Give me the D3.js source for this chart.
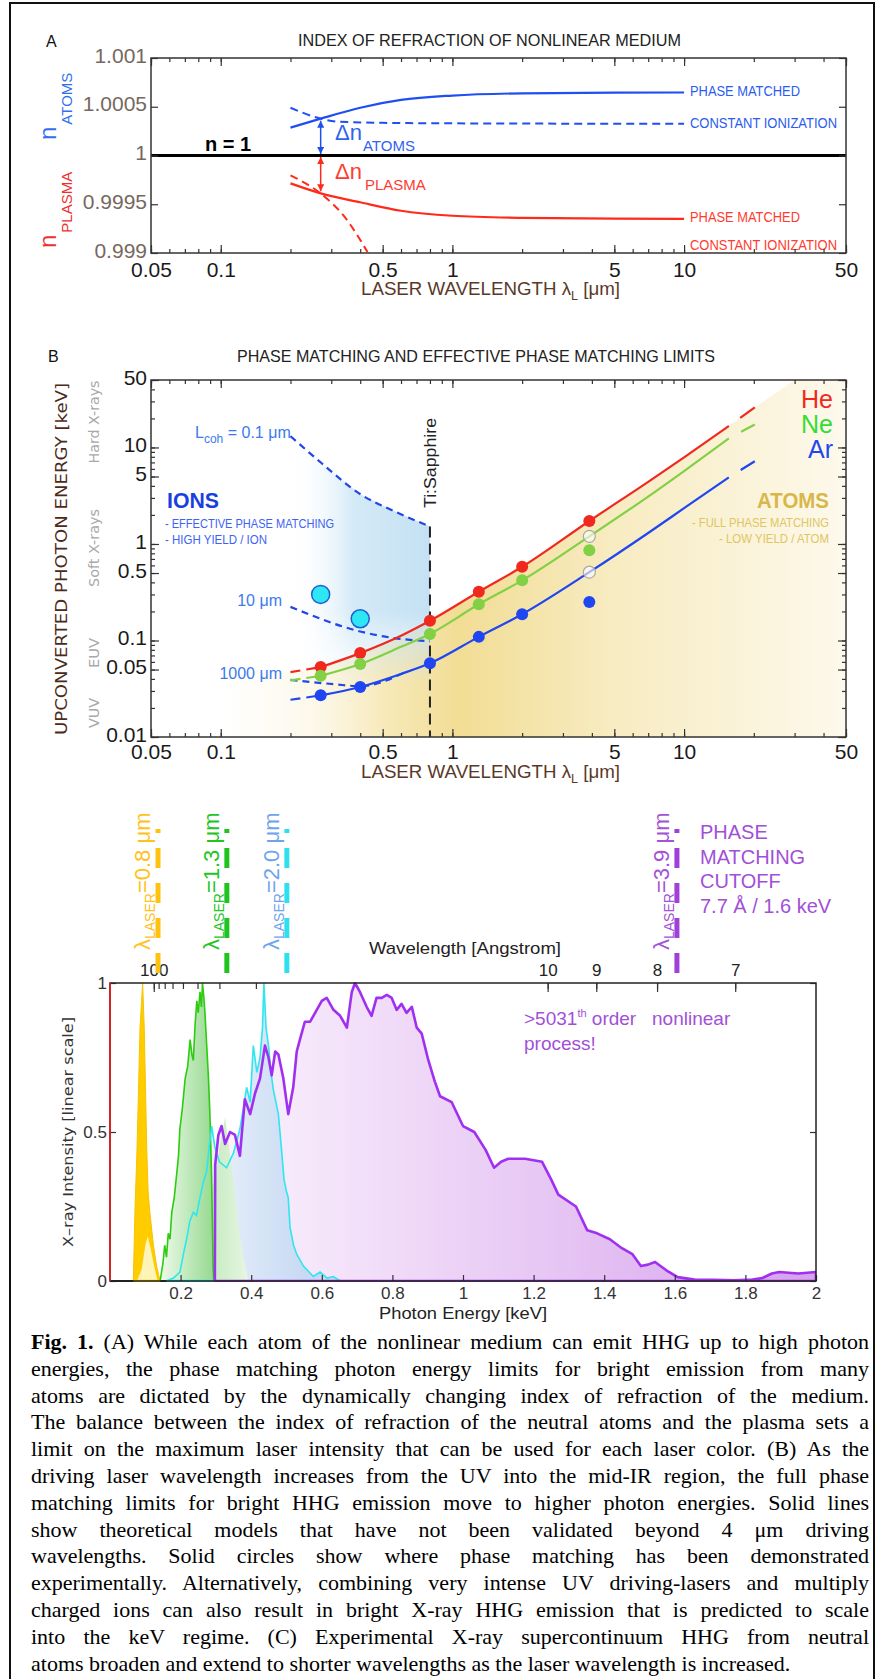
<!DOCTYPE html>
<html>
<head>
<meta charset="utf-8">
<script src="https://cdn.jsdelivr.net/npm/d3@7"></script>
<style>
  body { margin: 0; background: #fff; }
</style>
</head>
<body>
<script>
const SANS = '"Liberation Sans", Arial, sans-serif'
const WIDE = '"DejaVu Sans", Verdana, sans-serif'
const SERIF = '"Liberation Serif", "Times New Roman", serif'

// ---- panel A : index of refraction ----
const aWl = [0.2, 0.27, 0.4, 0.6, 1, 2, 5, 10]
const atomsMatched = [1.000286, 1.000378, 1.00049, 1.00057, 1.000615, 1.000638, 1.000645, 1.000646]
const plasmaMatched = [0.999714, 0.999612, 0.99952, 0.999433, 0.999382, 0.99936, 0.999352, 0.99935]
const atomsConstWl = [0.2, 0.27, 0.32, 0.5, 1, 10]
const atomsConst = [1.00049, 1.000378, 1.000347, 1.000335, 1.00033, 1.000325]
const plasmaConstWl = [0.2, 0.27, 0.34, 0.43]
const plasmaConst = [0.999796, 0.99961, 0.99938, 0.99901]
const crossWl = 0.27
const aYTicks = [0.999, 0.9995, 1, 1.0005, 1.001]
const xTickLabels = [0.05, 0.1, 0.5, 1, 5, 10, 50]

// ---- panel B : phase matching limits ----
const measWl = [0.27, 0.4, 0.8, 1.3, 2.0, 3.9]
const heMeas = [0.053, 0.074, 0.16, 0.32, 0.58, 1.73]
const neMeas = [0.043, 0.057, 0.117, 0.237, 0.42, 0.86]
const arMeas = [0.027, 0.033, 0.058, 0.109, 0.187, 0.25]
const openWl = [3.9, 3.9]
const openVal = [1.2, 0.51]
const ionWl = [0.27, 0.4]
const ionVal = [0.30, 0.168]
const theoWl = [0.27, 0.4, 0.6, 0.8, 1.3, 2, 3.9, 7, 10, 15.6]
const heTheo = [0.053, 0.074, 0.112, 0.16, 0.32, 0.58, 1.73, 4.4, 7.9, 16.7]
const neTheo = [0.043, 0.057, 0.086, 0.117, 0.237, 0.42, 1.2, 3.1, 5.7, 12.4]
const arTheo = [0.027, 0.033, 0.045, 0.058, 0.109, 0.187, 0.51, 1.3, 2.35, 4.9]
const lowWl = [0.2, 0.27]
const heLow = [0.047, 0.053]
const neLow = [0.0386, 0.043]
const arLow = [0.0243, 0.027]
const highWl = [15.6, 20.2]
const heHigh = [16.7, 26]
const neHigh = [12.4, 17.3]
const arHigh = [4.9, 7.2]
const atomsEdge = [30, 50]
const lcohFarWl = [0.2, 0.272, 0.403, 0.562, 0.8]
const lcohFar = [13.1, 6.9, 3.25, 2.18, 1.52]
const lcohMidWl = [0.2, 0.4, 0.56, 0.8]
const lcohMid = [0.223, 0.124, 0.106, 0.098]
const lcohNearWl = [0.2, 0.31, 0.4, 0.63]
const lcohNear = [0.039, 0.0352, 0.0336, 0.0475]
const tiSapphWl = 0.8
const bYLabels = [0.01, 0.05, 0.1, 0.5, 1, 5, 10, 50]

// ---- panel C : X-ray supercontinuum ----
const hcKeVA = 12.398
const angTicks = [100, 90, 80, 70, 60, 50, 40, 30, 10, 9, 8, 7]
const angLabels = [100, 10, 9, 8, 7]
const eTicks = [0.2, 0.4, 0.6, 0.8, 1, 1.2, 1.4, 1.6, 1.8, 2]
const cutoffE = [0.136, 0.331, 0.501, 1.606]
const cutoffWl = ['0.8', '1.3', '2.0', '3.9']
const yellowSpec = [[0.066,0],[0.071,0.25],[0.0757,0.41],[0.0803,0.62],[0.085,0.85],[0.0925,1.0],[0.097,0.85],[0.104,0.45],[0.108,0.3],[0.113,0.23],[0.123,0.12],[0.132,0.05],[0.142,0]]
const yellowInner = [[0.076,0],[0.09,0.04],[0.1,0.12],[0.107,0.15],[0.115,0.11],[0.125,0.05],[0.135,0]]
const greenSpec = [[0.142,0],[0.15,0.06],[0.155,0.12],[0.16,0.08],[0.165,0.16],[0.17,0.14],[0.175,0.23],[0.182,0.28],[0.189,0.36],[0.194,0.42],[0.198,0.51],[0.205,0.58],[0.213,0.68],[0.22,0.72],[0.227,0.81],[0.232,0.76],[0.236,0.74],[0.241,0.86],[0.246,0.94],[0.25,0.9],[0.255,0.97],[0.259,0.92],[0.262,1.0],[0.266,0.95],[0.269,0.9],[0.274,0.79],[0.279,0.68],[0.283,0.56],[0.288,0.34],[0.292,0.05],[0.294,0]]
const greenTail = [[0.288,0.3],[0.3,0.36],[0.31,0.45],[0.318,0.5],[0.326,0.55],[0.335,0.47],[0.345,0.38],[0.355,0.28],[0.365,0.18],[0.375,0.1],[0.385,0.04],[0.392,0]]
const cyanSpec = [[0.16,0],[0.18,0.01],[0.198,0.03],[0.208,0.09],[0.217,0.14],[0.226,0.2],[0.236,0.23],[0.245,0.22],[0.255,0.28],[0.264,0.33],[0.274,0.37],[0.281,0.45],[0.288,0.52],[0.297,0.45],[0.31,0.4],[0.33,0.38],[0.35,0.43],[0.368,0.51],[0.378,0.58],[0.387,0.65],[0.397,0.6],[0.406,0.79],[0.416,0.7],[0.425,0.75],[0.432,0.85],[0.436,1.0],[0.442,0.85],[0.449,0.79],[0.456,0.7],[0.463,0.64],[0.47,0.6],[0.477,0.56],[0.486,0.44],[0.493,0.34],[0.5,0.3],[0.505,0.28],[0.51,0.18],[0.52,0.12],[0.529,0.09],[0.548,0.05],[0.576,0.015],[0.595,0.03],[0.615,0.01],[0.633,0.015],[0.652,0]]
const purpleSpec = [[0.297,0],[0.298,0.39],[0.307,0.49],[0.316,0.52],[0.326,0.46],[0.34,0.5],[0.354,0.49],[0.368,0.42],[0.382,0.61],[0.397,0.56],[0.411,0.63],[0.425,0.68],[0.439,0.79],[0.449,0.75],[0.458,0.69],[0.468,0.77],[0.477,0.76],[0.491,0.68],[0.505,0.56],[0.519,0.65],[0.529,0.77],[0.538,0.81],[0.552,0.87],[0.567,0.87],[0.581,0.9],[0.6,0.94],[0.614,0.95],[0.633,0.91],[0.652,0.89],[0.671,0.85],[0.685,0.97],[0.694,1.0],[0.708,0.97],[0.727,0.92],[0.741,0.89],[0.755,0.95],[0.77,0.95],[0.784,0.96],[0.798,0.95],[0.812,0.91],[0.826,0.93],[0.84,0.9],[0.855,0.92],[0.869,0.85],[0.883,0.83],[0.902,0.74],[0.92,0.67],[0.935,0.62],[0.968,0.6],[1.0,0.52],[1.032,0.5],[1.064,0.44],[1.088,0.38],[1.108,0.4],[1.128,0.41],[1.176,0.41],[1.224,0.4],[1.25,0.34],[1.27,0.29],[1.32,0.25],[1.352,0.17],[1.38,0.16],[1.416,0.14],[1.45,0.11],[1.48,0.09],[1.504,0.05],[1.524,0.055],[1.544,0.064],[1.576,0.036],[1.608,0.013],[1.656,0.005],[1.71,0.004],[1.768,0.002],[1.82,0.005],[1.848,0.01],[1.875,0.025],[1.896,0.03],[1.95,0.025],[2.0,0.03]]

const captionLines = [
  '(A) While each atom of the nonlinear medium can emit HHG up to high photon',
  'energies, the phase matching photon energy limits for bright emission from many',
  'atoms are dictated by the dynamically changing index of refraction of the medium.',
  'The balance between the index of refraction of the neutral atoms and the plasma sets a',
  'limit on the maximum laser intensity that can be used for each laser color. (B) As the',
  'driving laser wavelength increases from the UV into the mid-IR region, the full phase',
  'matching limits for bright HHG emission move to higher photon energies. Solid lines',
  'show theoretical models that have not been validated beyond 4 \u03bcm driving',
  'wavelengths. Solid circles show where phase matching has been demonstrated',
  'experimentally. Alternatively, combining very intense UV driving-lasers and multiply',
  'charged ions can also result in bright X-ray HHG emission that is predicted to scale',
  'into the keV regime. (C) Experimental X-ray supercontinuum HHG from neutral',
  'atoms broaden and extend to shorter wavelengths as the laser wavelength is increased.',
]

const W = 885, H = 1679
const svg = d3.select('body').append('svg').attr('width', W).attr('height', H)
svg.append('rect').attr('width', W).attr('height', H).attr('fill', '#fff')
const defs = svg.append('defs')

function txt(g, x, y, s, o = {}) {
  const t = g.append('text').attr('x', x).attr('y', y)
    .attr('font-family', o.family || SANS)
    .attr('font-size', o.size || 14)
    .attr('fill', o.color || '#222')
  if (s !== null) t.text(s)
  if (o.anchor) t.attr('text-anchor', o.anchor)
  if (o.weight) t.attr('font-weight', o.weight)
  if (o.len) t.attr('textLength', o.len).attr('lengthAdjust', 'spacingAndGlyphs')
  if (o.rotate) t.attr('transform', `rotate(${o.rotate},${x},${y})`)
  return t
}

function axis(g, ax, tr, opt = {}) {
  const a = g.append('g').attr('transform', tr).call(ax)
  a.select('.domain').remove()
  a.attr('font-family', opt.family || SANS).attr('font-size', opt.size || 20).attr('color', '#333')
  a.selectAll('line').attr('stroke-width', 1.2)
  a.selectAll('text').attr('fill', opt.color || '#1a1a1a')
  if (opt.dy) a.selectAll('text').attr('dy', opt.dy)
  return a
}

function gradient(id, x1, x2, stops, vertical) {
  const gr = defs.append('linearGradient').attr('id', id).attr('gradientUnits', 'userSpaceOnUse')
  if (vertical) gr.attr('x1', 0).attr('x2', 0).attr('y1', x1).attr('y2', x2)
  else gr.attr('x1', x1).attr('x2', x2).attr('y1', 0).attr('y2', 0)
  stops.forEach(s => gr.append('stop').attr('offset', s[0]).attr('stop-color', s[1]).attr('stop-opacity', s[2] == null ? 1 : s[2]))
}

// outer frame
svg.append('rect').attr('x', 10).attr('y', 3).attr('width', 864).attr('height', 1720)
  .attr('fill', 'none').attr('stroke', '#111').attr('stroke-width', 2)

// =================== PANEL A ===================
const xA = d3.scaleLog().domain([0.05, 50]).range([151, 846])
const yA = d3.scaleLinear().domain([0.999, 1.001]).range([253, 58])
const gA = svg.append('g')

txt(gA, 46, 47, 'A', { size: 16, color: '#111' })
txt(gA, 298, 46, 'INDEX OF REFRACTION OF NONLINEAR MEDIUM', { size: 17, len: 383 })

const lineA = d3.line().x(d => xA(d[0])).y(d => yA(d[1])).curve(d3.curveMonotoneX)
gA.append('path').attr('d', lineA(d3.zip(aWl, atomsMatched))).attr('fill', 'none').attr('stroke', '#1f4ff0').attr('stroke-width', 2.2)
gA.append('path').attr('d', lineA(d3.zip(atomsConstWl, atomsConst))).attr('fill', 'none').attr('stroke', '#1f4ff0').attr('stroke-width', 2).attr('stroke-dasharray', '8,5')
gA.append('path').attr('d', lineA(d3.zip(aWl, plasmaMatched))).attr('fill', 'none').attr('stroke', '#ff2a1a').attr('stroke-width', 2.2)
gA.append('path').attr('d', lineA(d3.zip(plasmaConstWl, plasmaConst))).attr('fill', 'none').attr('stroke', '#ff2a1a').attr('stroke-width', 2).attr('stroke-dasharray', '8,5')

// n = 1
gA.append('line').attr('x1', xA(0.05)).attr('x2', xA(50)).attr('y1', yA(1)).attr('y2', yA(1)).attr('stroke', '#000').attr('stroke-width', 3)

// arrows
;[['arrowBlue', '#1f4ff0'], ['arrowRed', '#ff2a1a']].forEach(([id, c]) => {
  defs.append('marker').attr('id', id).attr('viewBox', '0 0 10 10').attr('refX', 10).attr('refY', 5)
    .attr('markerWidth', 9).attr('markerHeight', 7).attr('markerUnits', 'userSpaceOnUse')
    .attr('orient', 'auto-start-reverse')
    .append('path').attr('d', 'M0,0 L10,5 L0,10 z').attr('fill', c)
})
gA.append('line').attr('x1', xA(crossWl)).attr('x2', xA(crossWl)).attr('y1', yA(atomsMatched[1]) + 2).attr('y2', yA(1) - 1.5)
  .attr('stroke', '#1f4ff0').attr('stroke-width', 1.5).attr('marker-start', 'url(#arrowBlue)').attr('marker-end', 'url(#arrowBlue)')
gA.append('line').attr('x1', xA(crossWl)).attr('x2', xA(crossWl)).attr('y1', yA(1) + 1.5).attr('y2', yA(plasmaMatched[1]) - 2)
  .attr('stroke', '#ff2a1a').attr('stroke-width', 1.5).attr('marker-start', 'url(#arrowRed)').attr('marker-end', 'url(#arrowRed)')

let t = txt(gA, 335, 140, null, { size: 22, color: '#2f63f0' })
t.append('tspan').text('\u0394n')
t.append('tspan').attr('font-size', 15).attr('dy', 11).attr('dx', 1).text('ATOMS')
t = txt(gA, 335, 179, null, { size: 22, color: '#ff3b30' })
t.append('tspan').text('\u0394n')
t.append('tspan').attr('font-size', 15).attr('dy', 11).attr('dx', 3).text('PLASMA')
txt(gA, 205, 151, 'n = 1', { size: 20, weight: 'bold', color: '#000' })

txt(gA, 690, 96, 'PHASE MATCHED', { size: 14, color: '#2a5cf0', len: 110 })
txt(gA, 690, 128, 'CONSTANT IONIZATION', { size: 14, color: '#2a5cf0', len: 147 })
txt(gA, 690, 222, 'PHASE MATCHED', { size: 14, color: '#ff3b30', len: 110 })
txt(gA, 690, 250, 'CONSTANT IONIZATION', { size: 14, color: '#ff3b30', len: 147 })

// rotated n labels
t = txt(gA, 56, 140, null, { size: 24, color: '#2f6ff0', rotate: -90 })
t.append('tspan').text('n')
t.append('tspan').attr('font-size', 15).attr('dy', 16).attr('dx', 2).text('ATOMS')
t = txt(gA, 56, 248, null, { size: 24, color: '#f03030', rotate: -90 })
t.append('tspan').text('n')
t.append('tspan').attr('font-size', 15).attr('dy', 16).attr('dx', 2).text('PLASMA')

// axes A
axis(gA, d3.axisBottom(xA).tickValues(xA.ticks()).tickSize(-4).tickFormat(''), `translate(0,${yA(0.999)})`)
axis(gA, d3.axisBottom(xA).tickValues(xTickLabels).tickSize(-8).tickPadding(9).tickFormat(d3.format('~g')), `translate(0,${yA(0.999)})`, { size: 21 })
axis(gA, d3.axisTop(xA).tickValues(xA.ticks()).tickSize(-4).tickFormat(''), `translate(0,${yA(1.001)})`)
axis(gA, d3.axisTop(xA).tickValues(xTickLabels).tickSize(-8).tickFormat(''), `translate(0,${yA(1.001)})`)
axis(gA, d3.axisLeft(yA).tickValues(aYTicks).tickSize(-7).tickPadding(4).tickFormat(d3.format('~g')), `translate(${xA(0.05)},0)`, { size: 21, color: '#76685f', dy: '0.2em' })
axis(gA, d3.axisRight(yA).tickValues(aYTicks).tickSize(-7).tickFormat(''), `translate(${xA(50)},0)`)
gA.append('rect').attr('x', xA(0.05)).attr('y', yA(1.001)).attr('width', xA(50) - xA(0.05)).attr('height', yA(0.999) - yA(1.001))
  .attr('fill', 'none').attr('stroke', '#333').attr('stroke-width', 1.5)

t = txt(gA, 361, 295, null, { size: 18, color: '#5a3828', len: 259 })
t.append('tspan').text('LASER WAVELENGTH \u03bb')
t.append('tspan').attr('font-size', 12).attr('dy', 5).text('L')
t.append('tspan').attr('dy', -5).text(' [\u03bcm]')

// =================== PANEL B ===================
const xB = d3.scaleLog().domain([0.05, 50]).range([151, 846])
const yB = d3.scaleLog().domain([0.01, 50]).range([737, 380])
const gB = svg.append('g')

txt(gB, 48, 362, 'B', { size: 16, color: '#111' })
txt(gB, 237, 362, 'PHASE MATCHING AND EFFECTIVE PHASE MATCHING LIMITS', { size: 17, len: 478 })

defs.append('clipPath').attr('id', 'clipB').append('rect')
  .attr('x', xB(0.05)).attr('y', yB(50)).attr('width', xB(50) - xB(0.05)).attr('height', yB(0.01) - yB(50))
const plotB = gB.append('g').attr('clip-path', 'url(#clipB)')

// ATOMS background
gradient('atomsGrad', xB(0.1), xB(50), [[0, '#f8eec8', 0], [0.15, '#f7ecc2', 0.35], [0.26, '#f5e4a8', 0.8], [0.38, '#f2dd95', 1], [0.62, '#f7ebc0', 1], [1, '#fdf9ec', 1]])
const heAll = d3.zip(lowWl, heLow).concat(d3.zip(theoWl, heTheo).slice(1), d3.zip(highWl, heHigh).slice(1))
const atomsPoly = [[0.05, heLow[0]]].concat(heAll, [atomsEdge, [50, 50], [50, 0.01], [0.05, 0.01]])
plotB.append('path').attr('d', d3.line().x(d => xB(d[0])).y(d => yB(d[1]))(atomsPoly) + 'Z').attr('fill', 'url(#atomsGrad)')

// IONS background
gradient('ionsGrad', xB(0.2), xB(0.8), [[0, '#ffffff', 0], [0.45, '#d4eaf7', 1], [1, '#c4e1f3', 1]])
gradient('ionsFade', yB(0.2), yB(0.035), [[0, '#fff'], [1, '#000']], true)
defs.append('mask').attr('id', 'ionsMask').attr('maskUnits', 'userSpaceOnUse')
  .attr('x', 0).attr('y', 0).attr('width', W).attr('height', H)
  .append('rect').attr('x', 0).attr('y', 0).attr('width', W).attr('height', H).attr('fill', 'url(#ionsFade)')
const ionsPoly = d3.zip(lcohFarWl, lcohFar).concat([[tiSapphWl, 0.02], [0.2, 0.02]])
plotB.append('path').attr('d', d3.line().x(d => xB(d[0])).y(d => yB(d[1]))(ionsPoly) + 'Z')
  .attr('fill', 'url(#ionsGrad)').attr('mask', 'url(#ionsMask)')

const lineB = d3.line().x(d => xB(d[0])).y(d => yB(d[1])).curve(d3.curveMonotoneX)
;[[lcohFarWl, lcohFar], [lcohMidWl, lcohMid], [lcohNearWl, lcohNear]].forEach(([wl, v]) => {
  plotB.append('path').attr('d', lineB(d3.zip(wl, v))).attr('fill', 'none')
    .attr('stroke', '#2346e6').attr('stroke-width', 2.2).attr('stroke-dasharray', '7,5')
})
plotB.append('line').attr('x1', xB(tiSapphWl)).attr('x2', xB(tiSapphWl)).attr('y1', yB(lcohFar[lcohFar.length - 1])).attr('y2', yB(0.01))
  .attr('stroke', '#222').attr('stroke-width', 2).attr('stroke-dasharray', '11,6')

const gases = [
  { name: 'He', color: '#f0281e', theo: heTheo, low: heLow, high: heHigh, meas: heMeas },
  { name: 'Ne', color: '#82d044', theo: neTheo, low: neLow, high: neHigh, meas: neMeas },
  { name: 'Ar', color: '#1f46f0', theo: arTheo, low: arLow, high: arHigh, meas: arMeas },
]
gases.forEach(g => {
  plotB.append('path').attr('d', lineB(d3.zip(theoWl, g.theo))).attr('fill', 'none').attr('stroke', g.color).attr('stroke-width', 2.2)
  plotB.append('path').attr('d', lineB(d3.zip(lowWl, g.low))).attr('fill', 'none').attr('stroke', g.color).attr('stroke-width', 2.2).attr('stroke-dasharray', '10,6')
  plotB.append('path').attr('d', lineB(d3.zip(highWl, g.high))).attr('fill', 'none').attr('stroke', g.color).attr('stroke-width', 2.2).attr('stroke-dasharray', '0,14,40')
})
plotB.selectAll('circle.open').data(d3.zip(openWl, openVal)).join('circle')
  .attr('cx', d => xB(d[0])).attr('cy', d => yB(d[1])).attr('r', 6)
  .attr('fill', '#fff').attr('fill-opacity', 0.6).attr('stroke', '#aaa').attr('stroke-width', 1.2)
gases.forEach(g => {
  plotB.append('g').selectAll('circle').data(d3.zip(measWl, g.meas)).join('circle')
    .attr('cx', d => xB(d[0])).attr('cy', d => yB(d[1])).attr('r', 6).attr('fill', g.color)
})
plotB.append('g').selectAll('circle').data(d3.zip(ionWl, ionVal)).join('circle')
  .attr('cx', d => xB(d[0])).attr('cy', d => yB(d[1])).attr('r', 9)
  .attr('fill', '#2ee6f4').attr('stroke', '#1d5fd0').attr('stroke-width', 1.5)

// B axes
axis(gB, d3.axisBottom(xB).tickValues(xB.ticks()).tickSize(-4).tickFormat(''), `translate(0,${yB(0.01)})`)
axis(gB, d3.axisBottom(xB).tickValues(xTickLabels).tickSize(-8).tickPadding(7).tickFormat(d3.format('~g')), `translate(0,${yB(0.01)})`, { size: 21 })
axis(gB, d3.axisTop(xB).tickValues(xB.ticks()).tickSize(-4).tickFormat(''), `translate(0,${yB(50)})`)
axis(gB, d3.axisTop(xB).tickValues(xTickLabels).tickSize(-8).tickFormat(''), `translate(0,${yB(50)})`)
axis(gB, d3.axisLeft(yB).tickValues(yB.ticks()).tickSize(-4).tickFormat(''), `translate(${xB(0.05)},0)`)
axis(gB, d3.axisLeft(yB).tickValues(bYLabels).tickSize(-8).tickPadding(4).tickFormat(d3.format('~g')), `translate(${xB(0.05)},0)`, { size: 21, dy: '0.2em' })
axis(gB, d3.axisRight(yB).tickValues(yB.ticks()).tickSize(-4).tickFormat(''), `translate(${xB(50)},0)`)
axis(gB, d3.axisRight(yB).tickValues(bYLabels).tickSize(-8).tickFormat(''), `translate(${xB(50)},0)`)
gB.append('rect').attr('x', xB(0.05)).attr('y', yB(50)).attr('width', xB(50) - xB(0.05)).attr('height', yB(0.01) - yB(50))
  .attr('fill', 'none').attr('stroke', '#333').attr('stroke-width', 1.5)

// B labels
txt(gB, 67, 559, 'UPCONVERTED PHOTON ENERGY [keV]', { family: WIDE, size: 16, color: '#4b2a1a', anchor: 'middle', rotate: -90, len: 352 })
txt(gB, 99, 422, 'Hard X-rays', { family: WIDE, size: 14, color: '#a9a9a9', anchor: 'middle', rotate: -90, len: 83 })
txt(gB, 99, 548, 'Soft X-rays', { family: WIDE, size: 14, color: '#a9a9a9', anchor: 'middle', rotate: -90, len: 78 })
txt(gB, 99, 653, 'EUV', { family: WIDE, size: 14, color: '#a9a9a9', anchor: 'middle', rotate: -90, len: 30 })
txt(gB, 99, 713, 'VUV', { family: WIDE, size: 14, color: '#a9a9a9', anchor: 'middle', rotate: -90, len: 30 })

txt(gB, 167, 508, 'IONS', { size: 22, weight: 'bold', color: '#1a3fe0', len: 52 })
txt(gB, 165, 528, '- EFFECTIVE PHASE MATCHING', { size: 13, color: '#3d63f2', len: 169 })
txt(gB, 165, 544, '- HIGH YIELD / ION', { size: 13, color: '#3d63f2', len: 102 })
txt(gB, 829, 508, 'ATOMS', { size: 22, weight: 'bold', color: '#d8b84a', anchor: 'end', len: 72 })
txt(gB, 829, 527, '- FULL PHASE MATCHING', { size: 13, color: '#e0c562', anchor: 'end', len: 137 })
txt(gB, 829, 543, '- LOW YIELD / ATOM', { size: 13, color: '#e0c562', anchor: 'end', len: 110 })

gases.forEach((g, i) => txt(gB, 833, 408 + i * 25, g.name, { size: 25, color: g.name === 'Ne' ? '#33dd33' : g.color, anchor: 'end' }))

t = txt(gB, 195, 438, null, { size: 16, color: '#3b7bef' })
t.append('tspan').text('L')
t.append('tspan').attr('font-size', 12).attr('dy', 5).text('coh')
t.append('tspan').attr('dy', -5).text(' = 0.1 \u03bcm')
txt(gB, 282, 606, '10 \u03bcm', { size: 16, color: '#3b7bef', anchor: 'end' })
txt(gB, 282, 679, '1000 \u03bcm', { size: 16, color: '#3b7bef', anchor: 'end' })
txt(gB, 436, 508, 'Ti:Sapphire', { size: 17, color: '#222', rotate: -90, len: 90 })

t = txt(gB, 361, 778, null, { size: 18, color: '#5a3828', len: 259 })
t.append('tspan').text('LASER WAVELENGTH \u03bb')
t.append('tspan').attr('font-size', 12).attr('dy', 5).text('L')
t.append('tspan').attr('dy', -5).text(' [\u03bcm]')

// =================== PANEL C ===================
const xC = d3.scaleLinear().domain([0, 2]).range([110, 816])
const yC = d3.scaleLinear().domain([0, 1]).range([1281, 983])
const gC = svg.append('g')

defs.append('clipPath').attr('id', 'clipC').append('rect')
  .attr('x', xC(0)).attr('y', yC(1) - 1).attr('width', xC(2) - xC(0)).attr('height', yC(0) - yC(1) + 2)
const plotC = gC.append('g').attr('clip-path', 'url(#clipC)')

gradient('purpleGrad', xC(0.3), xC(2), [[0, '#fbf3fd'], [1, '#d6a2ec']])
gradient('cyanGrad', xC(0.2), xC(0.55), [[0, '#f2f8fe'], [1, '#c3d8f2']])
gradient('greenGrad', xC(0.15), xC(0.29), [[0, '#eaf8e6'], [1, '#98da92']])
gradient('greenTailGrad', xC(0.29), xC(0.39), [[0, '#c7ebc1'], [1, '#e6f6e2']])

const areaC = d3.area().x(d => xC(d[0])).y0(yC(0)).y1(d => yC(d[1]))
const lineC = d3.line().x(d => xC(d[0])).y(d => yC(d[1]))

plotC.append('path').attr('d', areaC(purpleSpec)).attr('fill', 'url(#purpleGrad)')
plotC.append('path').attr('d', areaC(cyanSpec)).attr('fill', 'url(#cyanGrad)').attr('fill-opacity', 0.9)
plotC.append('path').attr('d', areaC(greenTail)).attr('fill', 'url(#greenTailGrad)')
plotC.append('path').attr('d', areaC(greenSpec)).attr('fill', 'url(#greenGrad)')
plotC.append('path').attr('d', areaC(yellowSpec)).attr('fill', '#ffcc00').attr('stroke', '#f7c400').attr('stroke-width', 1)
plotC.append('path').attr('d', areaC(yellowInner)).attr('fill', '#fff4b8')

plotC.append('line').attr('x1', xC(0)).attr('x2', xC(2)).attr('y1', yC(0)).attr('y2', yC(0)).attr('stroke', '#222').attr('stroke-width', 2)
plotC.append('path').attr('d', lineC(greenSpec)).attr('fill', 'none').attr('stroke', '#2ccc10').attr('stroke-width', 1.6)
plotC.append('path').attr('d', lineC(cyanSpec)).attr('fill', 'none').attr('stroke', '#2ee6ee').attr('stroke-width', 1.6)
plotC.append('line').attr('x1', xC(cyanSpec[0][0])).attr('x2', xC(purpleSpec[0][0])).attr('y1', yC(0)).attr('y2', yC(0)).attr('stroke', '#2ee6ee').attr('stroke-width', 2.5)
plotC.append('line').attr('x1', xC(yellowSpec[0][0])).attr('x2', xC(yellowSpec[yellowSpec.length - 1][0])).attr('y1', yC(0)).attr('y2', yC(0)).attr('stroke', '#ffcc00').attr('stroke-width', 2.5)
plotC.append('path').attr('d', areaC(purpleSpec)).attr('fill', 'none').attr('stroke', '#a030f0').attr('stroke-width', 2.6).attr('stroke-linejoin', 'round')

// C axes
axis(gC, d3.axisBottom(xC).tickValues(eTicks).tickSize(-6).tickPadding(6).tickFormat(d3.format('~g')), `translate(0,${yC(0)})`, { size: 17, color: '#333' })
axis(gC, d3.axisLeft(yC).tickValues([0, 0.5, 1]).tickSize(-6).tickPadding(3).tickFormat(d3.format('~g')), `translate(${xC(0)},0)`, { size: 17, color: '#333' })
axis(gC, d3.axisRight(yC).tickValues([0, 0.5, 1]).tickSize(-6).tickFormat(''), `translate(${xC(2)},0)`)
axis(gC, d3.axisTop(xC).tickValues(angTicks.map(a => hcKeVA / a)).tickSize(-6).tickFormat(''), `translate(0,${yC(1)})`)
axis(gC, d3.axisTop(xC).tickValues(angLabels.map(a => hcKeVA / a)).tickSize(-9).tickPadding(7).tickFormat(e => d3.format('.0f')(hcKeVA / e)), `translate(0,${yC(1)})`, { size: 17, color: '#222' })
gC.append('rect').attr('x', xC(0)).attr('y', yC(1)).attr('width', xC(2) - xC(0)).attr('height', yC(0) - yC(1))
  .attr('fill', 'none').attr('stroke', '#222').attr('stroke-width', 1.5)
gC.append('line').attr('x1', xC(0)).attr('x2', xC(0)).attr('y1', yC(1)).attr('y2', yC(0)).attr('stroke', '#e02020').attr('stroke-width', 1.8)

txt(gC, 465, 954, 'Wavelength [Angstrom]', { size: 17, anchor: 'middle', len: 192, color: '#222' })
txt(gC, 463, 1319, 'Photon Energy [keV]', { size: 17, anchor: 'middle', len: 168, color: '#222' })
txt(gC, 73, 1132, 'X\u2013ray Intensity [linear scale]', { family: WIDE, size: 14, anchor: 'middle', rotate: -90, len: 230, color: '#333' })

// laser cutoff markers
const markerColors = ['#ffc20e', '#1fc41f', '#2ee0ee', '#a040d8']
const markerText = ['#ffc21a', '#22c522', '#6ea4ee', '#a452d6']
cutoffE.forEach((e, i) => {
  const x = xC(e)
  gC.append('line').attr('x1', x).attr('x2', x).attr('y1', 973).attr('y2', 829)
    .attr('stroke', markerColors[i]).attr('stroke-width', 5).attr('stroke-dasharray', '20,15')
  const lt = txt(gC, x - 8, 950, null, { size: 22, color: markerText[i], rotate: -90 })
  lt.append('tspan').text('\u03bb')
  lt.append('tspan').attr('font-size', 14).attr('dy', 5).text('LASER')
  lt.append('tspan').attr('dy', -5).text('=' + cutoffWl[i] + ' \u03bcm')
})
;['PHASE', 'MATCHING', 'CUTOFF', '7.7 \u00c5 / 1.6 keV'].forEach((s, i) => txt(gC, 700, 839 + i * 24.7, s, { size: 20, color: '#a24fd8' }))
t = txt(gC, 524, 1025, null, { size: 19, color: '#a24fd8' })
t.append('tspan').text('>5031')
t.append('tspan').attr('font-size', 11).attr('dy', -8).text('th')
t.append('tspan').attr('dy', 8).text(' order\u00a0\u00a0\u00a0nonlinear')
txt(gC, 524, 1050, 'process!', { size: 19, color: '#a24fd8' })

// =================== CAPTION ===================
const capX0 = 31, capX1 = 869, capY0 = 1349, capDy = 26.8
captionLines.forEach((line, i) => {
  const c = svg.append('text').attr('x', capX0).attr('y', capY0 + i * capDy)
    .attr('font-family', SERIF).attr('font-size', 22).attr('fill', '#000')
  let full = line
  if (i === 0) {
    c.append('tspan').attr('font-weight', 'bold').text('Fig. 1. ')
    c.append('tspan').text(line)
    full = 'Fig. 1. ' + line
  } else c.text(line)
  if (i < captionLines.length - 1) {
    const len = c.node().getComputedTextLength()
    const spaces = full.split(' ').length - 1
    c.style('word-spacing', ((capX1 - capX0 - len) / spaces) + 'px')
  }
})
</script>
</body>
</html>
